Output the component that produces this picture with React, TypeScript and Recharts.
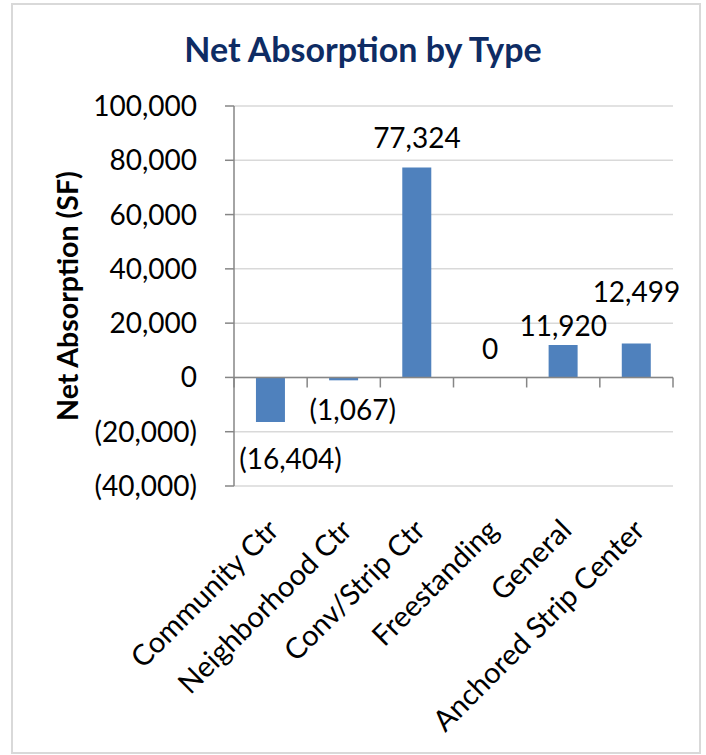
import React from 'react';
import {
  ComposedChart,
  Bar,
  Line,
  XAxis,
  YAxis,
  CartesianGrid,
  ReferenceLine,
  LabelList,
} from 'recharts';

const categories = [
  'Community Ctr',
  'Neighborhood Ctr',
  'Conv/Strip Ctr',
  'Freestanding',
  'General',
  'Anchored Strip Center',
];
const absorption = [-16404, -1067, 77324, 0, 11920, 12499];
const yTicks = [-40000, -20000, 0, 20000, 40000, 60000, 80000, 100000];

const data = categories.map((name, i) => ({ name, value: absorption[i] }));

// hand-placed label offsets, like the original
const LABEL_NUDGE: [number, number][] = [
  [20, 36],
  [9, 29],
  [0, -31],
  [0, -29],
  [0, -20],
  [0, -53],
];

const FONT = 'Lato, "Open Sans", sans-serif';
const TICK_LEN = 3700; // tick marks below the zero line, in data units

const fmt = (v: number) =>
  v < 0 ? `(${Math.abs(v).toLocaleString('en-US')})` : v.toLocaleString('en-US');

function CategoryTick(props: any) {
  const { x, y, payload } = props;
  const ax = x + 10;
  const ay = y + 38;
  return (
    <text
      x={ax}
      y={ay}
      transform={`rotate(-45, ${ax}, ${ay})`}
      textAnchor="end"
      fontFamily={FONT}
      fontSize={29}
      fill="#000"
    >
      {payload.value}
    </text>
  );
}

function ValueLabel(props: any) {
  const { x, y, value, index } = props;
  const [dx, dy] = LABEL_NUDGE[index] || [0, 0];
  return (
    <text
      x={x + dx}
      y={y + dy}
      textAnchor="middle"
      dominantBaseline="central"
      fontFamily={FONT}
      fontSize={28}
      fill="#000"
    >
      {fmt(value)}
    </text>
  );
}

export default function App() {
  return (
    <div style={{ position: 'absolute', left: 0, top: 0, width: 706, height: 755, background: '#fff' }}>
      <div
        style={{
          position: 'absolute',
          left: 11,
          top: 3,
          width: 690,
          height: 751,
          border: '2px solid #D9D9D9',
          boxSizing: 'border-box',
        }}
      />
      <ComposedChart
        width={706}
        height={755}
        data={data}
        margin={{ top: 106, right: 33, bottom: 0, left: 0 }}
        barCategoryGap="30%"
        style={{ position: 'absolute', left: 0, top: 0 }}
      >
        <CartesianGrid vertical={false} stroke="#D9D9D9" strokeWidth={1.5} />
        <XAxis
          dataKey="name"
          height={269}
          interval={0}
          axisLine={false}
          tickLine={false}
          tick={<CategoryTick />}
        />
        <YAxis
          width={234}
          domain={[-40000, 100000]}
          ticks={yTicks}
          interval={0}
          tickFormatter={fmt}
          tickSize={9}
          tickMargin={28}
          axisLine={{ stroke: '#868686', strokeWidth: 1.5 }}
          tickLine={{ stroke: '#868686', strokeWidth: 1.5 }}
          tick={{ fill: '#000', fontSize: 28, fontFamily: FONT }}
        />
        <ReferenceLine y={0} stroke="#868686" strokeWidth={1.5} />
        {categories.map((c) => (
          <ReferenceLine
            key={c}
            segment={[{ x: c, y: 0 }, { x: c, y: -TICK_LEN }]}
            position="start"
            stroke="#868686"
            strokeWidth={1.5}
          />
        ))}
        <ReferenceLine
          segment={[
            { x: categories[categories.length - 1], y: 0 },
            { x: categories[categories.length - 1], y: -TICK_LEN },
          ]}
          position="end"
          stroke="#868686"
          strokeWidth={1.5}
        />
        <Bar dataKey="value" fill="#4F81BD" isAnimationActive={false} />
        {/* invisible series that carries the data labels, so the 0 gets one too */}
        <Line
          dataKey="value"
          stroke="none"
          dot={false}
          activeDot={false}
          isAnimationActive={false}
        >
          <LabelList dataKey="value" content={<ValueLabel />} />
        </Line>
      </ComposedChart>
      <svg
        width={706}
        height={755}
        style={{ position: 'absolute', left: 0, top: 0, pointerEvents: 'none' }}
      >
        <text
          x={363}
          y={62}
          textAnchor="middle"
          fontFamily={FONT}
          fontWeight="bold"
          fontSize={34}
          fill="#0E2C64"
        >
          Net Absorption by Type
        </text>
        <text
          x={67}
          y={296}
          transform="rotate(-90, 67, 296)"
          textAnchor="middle"
          dominantBaseline="central"
          fontFamily={FONT}
          fontWeight="bold"
          fontSize={28.5}
          fill="#000"
        >
          Net Absorption (SF)
        </text>
      </svg>
    </div>
  );
}
